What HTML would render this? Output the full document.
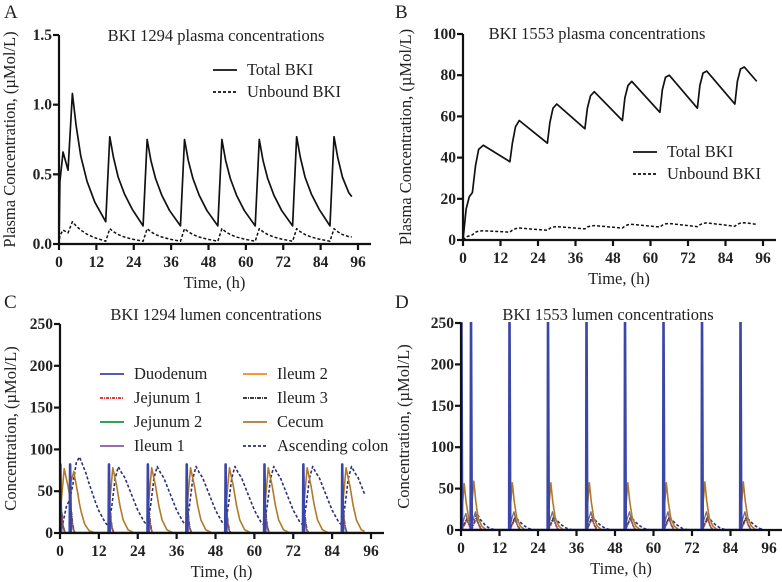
<!DOCTYPE html>
<html><head><meta charset="utf-8"><style>
html,body{margin:0;padding:0;background:#fff;}
svg{display:block;font-family:"Liberation Serif",serif;}
.tick{font-size:15.5px;font-weight:bold;fill:#222;}
.ttl{font-size:16.5px;fill:#222;}
.lab{font-size:16.5px;fill:#222;}
</style></head><body>
<svg id="fig" width="782" height="582" viewBox="0 0 782 582"></svg>
<script>
// ---- data ----
const xTicks=[0,12,24,36,48,60,72,84,96];
const aTicks=["0.0","0.5","1.0","1.5"];
const bTicks=["0","20","40","60","80","100"];
const lumenTicks=["0","50","100","150","200","250"];

const aTimes=[0,0.3,1.3,2.9,4.3,5.5,7,9,11.5,15,
 16.3,17.5,19,21,23.5,27, 28.3,29.5,31,33,35.5,39, 40.3,41.5,43,45,47.5,51,
 52.3,53.5,55,57,59.5,63, 64.3,65.5,67,69,71.5,75, 76.3,77.5,79,81,83.5,87,
 88.3,89.5,91,93,94];
const aTotal=[0,0.45,0.66,0.53,1.08,0.85,0.63,0.45,0.3,0.16,
 0.77,0.62,0.48,0.36,0.25,0.13, 0.75,0.6,0.47,0.35,0.24,0.13, 0.75,0.6,0.47,0.35,0.24,0.13,
 0.75,0.6,0.47,0.35,0.24,0.13, 0.75,0.6,0.47,0.35,0.24,0.13, 0.77,0.62,0.48,0.36,0.25,0.13,
 0.77,0.62,0.48,0.37,0.34];
const aUnbound=[0,0.06,0.1,0.08,0.16,0.13,0.1,0.07,0.045,0.02,
 0.11,0.088,0.068,0.05,0.035,0.02, 0.11,0.088,0.068,0.05,0.035,0.02, 0.11,0.088,0.068,0.05,0.035,0.02,
 0.11,0.088,0.068,0.05,0.035,0.02, 0.11,0.088,0.068,0.05,0.035,0.02, 0.11,0.088,0.068,0.05,0.035,0.02,
 0.11,0.088,0.068,0.053,0.05];

const bTimes=[0,1,2,3,4,5,6.5,15,15.8,16.8,18,27,27.8,28.8,30,39,39.8,40.8,42,51,51.8,52.8,54,63,63.8,64.8,66,75,75.8,76.8,78,87,87.8,88.8,90,94];
const bTotal=[0,15,21,23,36,44,46,38,47,55,58,47,57,64,66,54,64,70,72,58,69,75,77,62,73,79,80,64,75,81,82,66,77,83,84,77];
const bUnbound=[0,1.5,2,2.5,3.8,4.3,4.5,3.8,4.8,5.5,5.8,4.7,5.7,6.3,6.5,5.4,6.3,6.8,7,5.8,6.8,7.4,7.6,6.3,7.2,7.8,8,6.5,7.4,8.1,8.3,6.7,7.6,8.2,8.4,7.6];

const doses=[0,3,15,27,39,51,63,75,87];
// panel C amplitudes per dose (µMol/L)
const cDuod=[82,82,82,82,82,82,82,82,82];
const cCecum=[77,55,78,78,78,78,78,78,78];
const cColon=[40,62,78,78,78,78,78,78,78];
const cIleum=[35,35,35,35,35,35,35,35,35];
// panel D amplitudes per dose
const dDuod=[260,260,260,260,260,260,260,260,260];
const dCecum=[56,56,57,57,57,57,57,58,58];
const dColon=[14,16,16,16,16,16,16,16,16];
const dIleum=[20,22,22,22,22,22,22,22,22];
// single-cycle profile shapes (offset h, fraction of peak)
const spikeOff=[0,0.12,0.35],spikeFr=[0,1,0];
const cecOffC=[0,0.4,1.3,2.5,3.5,4.5,6,8],cecFrC=[0,0.5,1,0.72,0.42,0.2,0.05,0];
const colOffC=[0,1,2,3,5,7,9,11,12,14,16],colFrC=[0,0.35,0.8,1,0.85,0.6,0.35,0.17,0.12,0.04,0];
const ileOff=[0,0.3,0.6,1,1.5],ileFr=[0,1,0.5,0.15,0];
const cecOffD=[0,0.4,1,1.6,2.4,3.5,5],cecFrD=[0,0.5,1,0.6,0.25,0.08,0];
const colOffD=[0,1,2,3,4.5,6,8],colFrD=[0,0.4,1,0.7,0.35,0.12,0];
const ileOffD=[0,0.8,1.5,2.3,3.2],ileFrD=[0,0.6,1,0.4,0];

// ---- drawing ----
const NS="http://www.w3.org/2000/svg";
const svg=document.getElementById('fig');
function el(tag,attrs,parent){const e=document.createElementNS(NS,tag);for(const k in attrs)e.setAttribute(k,attrs[k]);(parent||svg).appendChild(e);return e;}
function txt(s,attrs,parent){const e=el('text',attrs,parent);e.textContent=s;return e;}

function profile(amps,offs,frs){
  const ts=[],vs=[];
  for(let t=0;t<=94;t+=0.05){let v=0;
    for(let i=0;i<doses.length;i++){const dt=t-doses[i];if(dt<0||dt>offs[offs.length-1])continue;
      for(let j=1;j<offs.length;j++){if(dt<=offs[j]){const f=(dt-offs[j-1])/(offs[j]-offs[j-1]);v+=amps[i]*(frs[j-1]+f*(frs[j]-frs[j-1]));break;}}}
    ts.push(t);vs.push(v);}
  return [ts,vs];
}
function spikes(amps){ // explicit points per dose
  const t=[0],v=[0];
  doses.forEach((d,i)=>{spikeOff.forEach((o,j)=>{t.push(d+o);v.push(amps[i]*spikeFr[j]);});});
  t.push(94);v.push(0);return {t,v};
}

function panel(o){
  const g=el('g',{});
  
  
  const X=v=>o.x0+(o.x1-o.x0)*v/96;
  const Y=v=>o.y0-(o.y0-o.y1)*v/o.ymax;
  const t=txt(o.letter,{x:o.lx,y:o.ly,'font-size':19,fill:'#222'},g);
  
  const ti=txt(o.title,{x:o.tx,y:o.ty,'text-anchor':'middle',class:'ttl'},g);
  
  const cid='clip'+o.letter;
  const cp=el('clipPath',{id:cid},g);el('rect',{x:o.x0,y:o.y1-1,width:o.x1-o.x0+15,height:o.y0-o.y1+2},cp);
  const plot=el('g',{'clip-path':'url(#'+cid+')'},g);
  
  o.series.forEach(s=>{
    let d='';s.t.forEach((tt,i)=>{d+=(i?'L':'M')+X(tt).toFixed(2)+','+Y(s.v[i]).toFixed(2);});
    const p=el('path',{d:d,fill:'none',stroke:s.color,'stroke-width':s.w||1.6,'stroke-dasharray':s.dash||'none','stroke-linejoin':'round'},plot);
    
  });
  const ax=el('g',{stroke:'#111','stroke-width':2.2},g);
  
  el('line',{x1:o.x0,y1:o.y0,x2:o.x1+13,y2:o.y0},ax);
  el('line',{x1:o.x0,y1:o.y0+1,x2:o.x0,y2:o.y1},ax);
  xTicks.forEach(v=>{el('line',{x1:X(v),y1:o.y0,x2:X(v),y2:o.y0+6},ax);
    const l=txt(String(v),{x:X(v),y:o.y0+23,'text-anchor':'middle',class:'tick'},g);
    });
  o.yTicks.forEach((s,i)=>{const v=o.ymax*i/(o.yTicks.length-1);
    el('line',{x1:o.x0-6,y1:Y(v),x2:o.x0,y2:Y(v)},ax);
    const l=txt(s,{x:o.x0-7,y:Y(v)+5,'text-anchor':'end',class:'tick'},g);
    });
  const xt=txt('Time, (h)',{x:(o.x0+o.x1)/2+6,y:o.y0+44,'text-anchor':'middle',class:'lab'},g);
  
  const yc=(o.y0+o.y1)/2;
  const yt=txt(o.ylab,{x:o.ylx,y:yc,'text-anchor':'middle',class:'lab',transform:'rotate(-90 '+o.ylx+' '+yc+')'},g);
  
  (o.legend||[]).forEach(e=>{
    const lg=el('g',{},g);
    
    el('line',{x1:e.x,y1:e.y,x2:e.x+24,y2:e.y,stroke:e.color,'stroke-width':1.8,'stroke-dasharray':e.dash||'none'},lg);
    txt(e.label,{x:e.x+34,y:e.y+5,class:'lab'},lg);
  });
}

panel({name:'panel-a',letter:'A',lx:4,ly:18,title:'BKI 1294 plasma concentrations',tx:216,ty:41,
  x0:59,x1:358,y0:244,y1:35,ymax:1.5,yTicks:aTicks,ylab:'Plasma Concentration, (µMol/L)',ylx:15,
  series:[{name:'total-bki-line',t:aTimes,v:aTotal,color:'#111',w:1.7},{name:'unbound-bki-line',t:aTimes,v:aUnbound,color:'#111',w:1.5,dash:'3,2'}],
  legend:[{x:213,y:70,label:'Total BKI',color:'#111'},{x:213,y:92,label:'Unbound BKI',color:'#111',dash:'3,2'}]});

panel({name:'panel-b',letter:'B',lx:395,ly:18,title:'BKI 1553 plasma concentrations',tx:597,ty:39,
  x0:463,x1:763,y0:240,y1:34,ymax:100,yTicks:bTicks,ylab:'Plasma Concentration, (µMol/L)',ylx:411,
  series:[{name:'total-bki-line',t:bTimes,v:bTotal,color:'#111',w:1.7},{name:'unbound-bki-line',t:bTimes,v:bUnbound,color:'#111',w:1.5,dash:'3,2'}],
  legend:[{x:633,y:152,label:'Total BKI',color:'#111'},{x:633,y:174,label:'Unbound BKI',color:'#111',dash:'3,2'}]});

function lumen(dSet,cec,col,ile,cOff,cFr,oOff,oFr,iOff,iFr){
  const c=profile(cec,cOff,cFr),o=profile(col,oOff,oFr),i=profile(ile,iOff,iFr),d=spikes(dSet);
  const ij=ile.map(v=>v*0.7);const i2=profile(ij,iOff.map(x=>x+0.3),iFr);
  return [
    {name:'ascending-colon-line',t:o[0],v:o[1],color:'#2b2f7a',dash:'3,2',w:1.6},
    {name:'ileum-3-line',t:i2[0],v:i2[1],color:'#333',dash:'4,1,1,1',w:1.3},
    {name:'ileum-1-line',t:i[0],v:i[1],color:'#7a6a7a',w:1.3},
    {name:'jejunum-1-line',t:i2[0],v:i2[1].map(x=>x*0.8),color:'#a44',dash:'3,1,1,1',w:1.2},
    {name:'cecum-line',t:c[0],v:c[1],color:'#b07a2a',w:1.6},
    {name:'duodenum-line',t:d.t,v:d.v,color:'#3a46a8',w:2.6}];
}
const legendC=[['Duodenum','#3a46a8'],['Jejunum 1','#d22','3,1,1,1'],['Jejunum 2','#1a9040'],['Ileum 1','#8a5aa8'],['Ileum 2','#f08a1e'],['Ileum 3','#222','4,1,1,1'],['Cecum','#b07a2a'],['Ascending colon','#2b2f7a','3,2']]
  .map((e,k)=>({x:k<4?100:243,y:374+24*(k%4),label:e[0],color:e[1],dash:e[2]}));

panel({name:'panel-c',letter:'C',lx:4,ly:308,title:'BKI 1294 lumen concentrations',tx:216,ty:320,
  x0:60,x1:371,y0:533,y1:324,ymax:250,yTicks:lumenTicks,ylab:'Concentration, (µMol/L)',ylx:16,
  series:lumen(cDuod,cCecum,cColon,cIleum,cecOffC,cecFrC,colOffC,colFrC,ileOff,ileFr),legend:legendC});

panel({name:'panel-d',letter:'D',lx:395,ly:308,title:'BKI 1553 lumen concentrations',tx:608,ty:320,
  x0:461,x1:769,y0:530,y1:323,ymax:250,yTicks:lumenTicks,ylab:'Concentration, (µMol/L)',ylx:409,
  series:lumen(dDuod,dCecum,dColon,dIleum,cecOffD,cecFrD,colOffD,colFrD,ileOffD,ileFrD)});
</script>
</body></html>
